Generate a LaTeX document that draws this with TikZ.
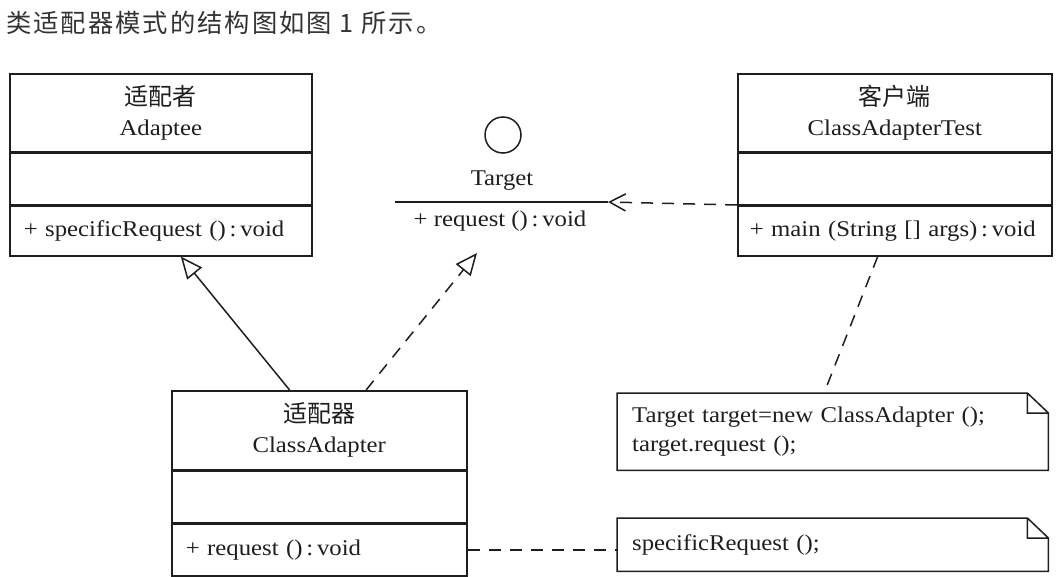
\documentclass[tikz,border=0pt]{standalone}
\usepackage{fontspec}
\setmainfont{Liberation Serif}[FakeStretch=1.1]
\newfontfamily\cjk{Noto Sans CJK SC}
\newfontfamily\cjkhead{Noto Sans CJK SC}[LetterSpace=8]
\usetikzlibrary{positioning,arrows.meta,calc}
\definecolor{ink}{RGB}{30,30,30}
\definecolor{headgray}{RGB}{51,51,51}

\begin{document}
\begin{tikzpicture}[x=1pt,y=-1pt,
    every node/.style={text=ink},
    umlline/.style={draw=ink,line width=1.5pt},
    dashline/.style={dash pattern=on 12pt off 9pt},
    clsbox/.style={draw=ink,line width=1.5pt,inner sep=0pt},
    clshead/.style={clsbox,align=center,font=\fontsize{22.5}{30}\selectfont},
    clsops/.style={clsbox,inner xsep=14pt,align=left,font=\fontsize{22.5}{26}\selectfont},
    lbl/.style={inner sep=0pt,font=\fontsize{22.5}{26}\selectfont},
    umlnote/.style={inner xsep=15pt,inner ysep=0pt,align=left,anchor=north west,font=\fontsize{22.5}{29}\selectfont}]
    \useasboundingbox (0,0) rectangle (1058,576);

    % Caption line
    \node[anchor=west,inner sep=0pt,text=headgray,font=\cjkhead\fontsize{25.3}{30}\selectfont] (caption) at (6,23) {类适配器模式的结构图如图 1 所示。};

    % Draw class Adaptee
    \node[clshead,minimum width=302pt,minimum height=78pt,anchor=north west] (adaptee) at (9,73) {{\cjk\fontsize{24}{30}\selectfont 适配者}\\Adaptee};
    \node[clsbox,minimum width=302pt,minimum height=51pt,below=0pt of adaptee] (adapteeA) {};
    \node[clsops,text width=274pt,minimum height=50pt,below=0pt of adapteeA] (adapteeM) {+ specificRequest ()\,:\,void};

    % Draw class ClassAdapterTest
    \node[clshead,minimum width=314pt,minimum height=78pt,anchor=north west] (client) at (737,73) {{\cjk\fontsize{24}{30}\selectfont 客户端}\\ClassAdapterTest};
    \node[clsbox,minimum width=314pt,minimum height=51pt,below=0pt of client] (clientA) {};
    \node[clsops,inner xsep=12pt,text width=290pt,minimum height=50pt,below=0pt of clientA] (clientM) {+ main (String [] args)\,:\,void};

    % Draw class ClassAdapter
    \node[clshead,minimum width=295pt,minimum height=79pt,anchor=north west] (adapter) at (171,390) {{\cjk\fontsize{24}{30}\selectfont 适配器}\\ClassAdapter};
    \node[clsbox,minimum width=295pt,minimum height=51pt,below=0pt of adapter] (adapterA) {};
    \node[clsops,text width=267pt,minimum height=52pt,below=0pt of adapterA] (adapterM) {+ request ()\,:\,void};

    % Draw interface Target
    \node[clsbox,circle,minimum size=36pt] (tgtball) at (503,135) {};
    \node[lbl] (tgt) at (502,181) {Target};
    \coordinate (tgtL) at (395,202);
    \coordinate (tgtR) at (608,202);
    \draw[umlline] (tgtL) -- (tgtR);
    \node[lbl] (tgtop) at (500,221) {+ request ()\,:\,void};
    \coordinate (tgtfoot) at (477,253);

    % Draw notes
    \node[umlnote,minimum width=431pt,minimum height=77pt,text width=401pt] (note1) at (617,393) {Target target=new ClassAdapter ();\\target.request ();};
    \node[umlnote,minimum width=431pt,minimum height=53pt,text width=401pt] (note2) at (617,518) {specificRequest ();};
    \foreach \n in {note1,note2}
        \draw[umlline,line join=miter] (\n.north west) -- ([xshift=-21pt]\n.north east) -- ([yshift=-20pt]\n.north east) -- (\n.south east) -- (\n.south west) -- cycle
            ([xshift=-21pt]\n.north east) |- ([yshift=-20pt]\n.north east);

    % Connectors
    \draw[umlline,-{Triangle[open,length=22pt,width=19pt]}] ($(adapter.north west)!0.4!(adapter.north east)$) -- ($(adapteeM.south west)!0.566!(adapteeM.south east)$);
    \draw[umlline,dashline,-{Triangle[open,length=22pt,width=19pt]}] ($(adapter.north west)!0.658!(adapter.north east)$) -- (tgtfoot);
    \draw[umlline,dashline,-{Straight Barb[length=16pt,width=17pt]}] (clientA.south west) -- (tgtR);
    \draw[umlline,dashline] ($(clientM.south west)!0.446!(clientM.south east)$) -- ($(note1.north west)!0.48!(note1.north east)$);
    \draw[umlline,dashline] (adapterM.east) -- (adapterM.east -| note2.west);
\end{tikzpicture}
\end{document}
